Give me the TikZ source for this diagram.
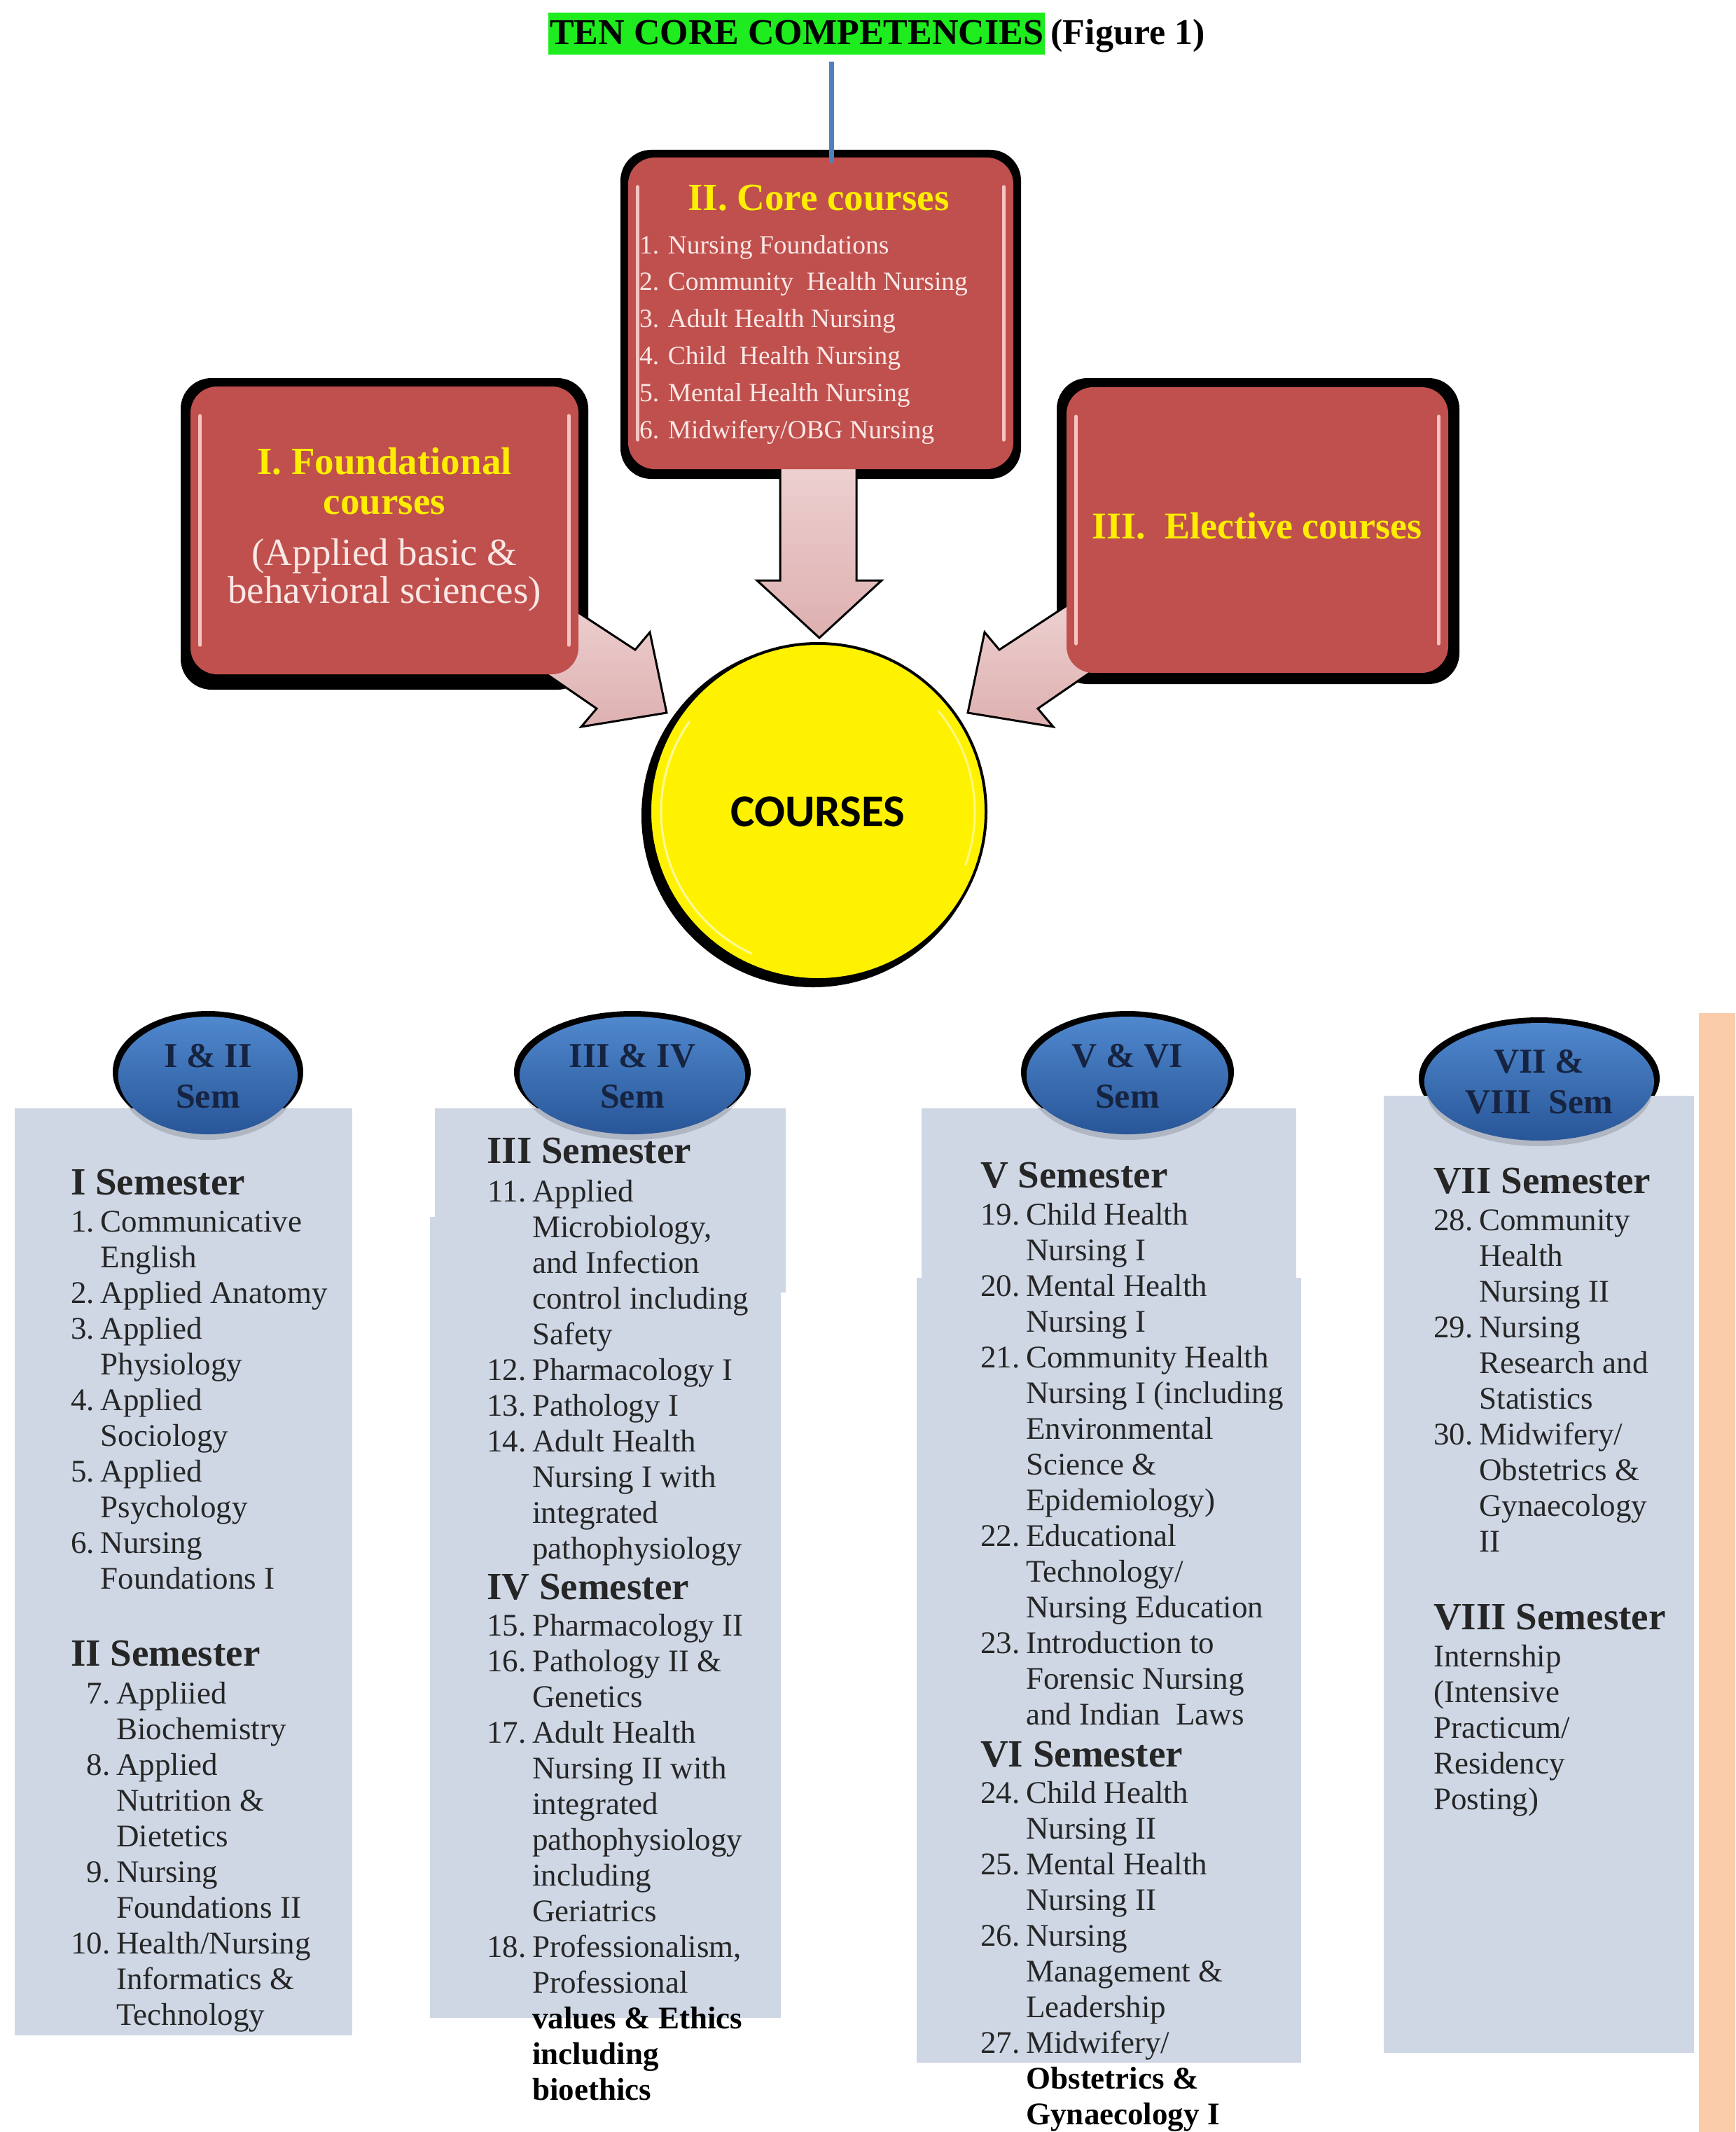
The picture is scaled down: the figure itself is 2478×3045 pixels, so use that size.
\documentclass[tikz,border=0pt]{standalone}
\usepackage{fontspec}
\setmainfont{Liberation Serif}
\newfontfamily\calibfont{Carlito}
\usetikzlibrary{calc,shapes.geometric}
\definecolor{boxred}{RGB}{192,80,77}
\definecolor{shine}{RGB}{246,196,194}
\definecolor{titlegreen}{RGB}{30,236,30}
\definecolor{ttlyellow}{RGB}{255,238,0}
\definecolor{paletext}{RGB}{250,232,230}
\definecolor{arrowpink}{RGB}{222,176,176}
\definecolor{arrowlight}{RGB}{238,210,210}
\definecolor{colfill}{RGB}{207,215,229}
\definecolor{peach}{RGB}{250,204,170}
\definecolor{semlight}{RGB}{80,136,206}
\definecolor{semdark}{RGB}{40,86,152}
\definecolor{navy}{RGB}{22,36,66}
\definecolor{bodytext}{RGB}{38,38,38}
\definecolor{lineblue}{RGB}{79,129,189}
\newcommand{\bodyfnt}{\fontsize{45}{51}\selectfont}
\newcommand{\headfnt}{\fontsize{55}{60}\selectfont\bfseries}
\tikzset{
  redbox/.style={rectangle, rounded corners=38pt, fill=boxred, inner sep=0pt},
  shadowbox/.style={rounded corners=44pt, fill=black},
  blockarrow/.style={top color=arrowlight, bottom color=arrowpink, draw=black, line width=3pt, line join=miter},
  gloss/.style={shine, line width=5pt, line cap=round},
  sembubble/.style={ellipse, top color=semlight, bottom color=semdark, inner sep=0pt},
  semtxt/.style={anchor=base, inner sep=0pt, text=navy, font=\fontsize{50}{58}\selectfont\bfseries},
  colbox/.style={fill=colfill},
  headtxt/.style={anchor=base west, inner sep=0pt, text=bodytext, font=\headfnt},
  itemblk/.style={anchor=base west, inner sep=0pt, text=bodytext, font=\bodyfnt},
}
\begin{document}
\begin{tikzpicture}[x=1pt,y=-1pt]
\useasboundingbox (0,0) rectangle (2478,3045);
\fill[white] (0,0) rectangle (2478,3045);

% ---------- title ----------
\node[anchor=base west, fill=titlegreen, inner xsep=2pt, inner ysep=0pt, text height=46pt, text depth=14pt,
      font=\fontsize{52}{60}\selectfont\bfseries] (title) at (783,64) {TEN CORE COMPETENCIES};
\node[anchor=base west, inner sep=0pt, font=\fontsize{52}{60}\selectfont\bfseries] (fig) at ([xshift=8pt]title.base east) {(Figure 1)};

% ---------- shadows of red boxes ----------
\fill[shadowbox] (886,214) rectangle (1458,684);
\fill[shadowbox] (258,540) rectangle (840,985);
\fill[shadowbox] (1509,540) rectangle (2084,977);

% ---------- block arrows ----------
\shade[blockarrow] (1114,650) -- (1114,829) -- (1081,829) -- (1170,911) -- (1259,829) -- (1223,829) -- (1223,650) -- cycle;
\shade[blockarrow] (788,850) -- (907,928) -- (928,903) -- (952,1018) -- (830,1038) -- (852,1012) -- (743,937) -- cycle;
\shade[blockarrow] (1546,850) -- (1427,928) -- (1406,903) -- (1382,1018) -- (1504,1038) -- (1482,1012) -- (1591,937) -- cycle;

% ---------- red boxes ----------
\node[redbox, minimum width=550pt, minimum height=445pt] (core) at (1172,447.5) {};
\node[redbox, minimum width=554pt, minimum height=411pt] (found) at (549,757.5) {};
\node[redbox, minimum width=545pt, minimum height=408pt] (elect) at (1795.5,757) {};

% connector from title to core box
\coordinate (lt) at (1187,88);
\draw[lineblue, line width=7pt] (lt) -- ([yshift=-8pt]lt |- core.north);

% texts in red boxes
\node[anchor=base, inner sep=0pt, text=ttlyellow, font=\fontsize{55}{60}\selectfont\bfseries] (coret) at (1169,300) {II.\ Core courses};
\node[anchor=base west, inner sep=0pt, text=paletext, font=\fontsize{37.5}{52.8}\selectfont] (corel) at (913,362)
  {\begin{tabular}[t]{@{}l@{}}1. Nursing Foundations\\2. Community\ \ Health Nursing\\3. Adult Health Nursing\\4. Child\ \ Health Nursing\\5. Mental Health Nursing\\6. Midwifery/OBG Nursing\end{tabular}};
\node[anchor=base, inner sep=0pt, text=ttlyellow, font=\fontsize{55}{57}\selectfont\bfseries] (foundt) at (549,677)
  {\begin{tabular}[t]{@{}c@{}}I. Foundational\\courses\end{tabular}};
\node[anchor=base, inner sep=0pt, text=paletext, font=\fontsize{55}{53}\selectfont] (foundl) at (549,807)
  {\begin{tabular}[t]{@{}c@{}}(Applied basic \&\\behavioral sciences)\end{tabular}};
\node[anchor=base, inner sep=0pt, text=ttlyellow, font=\fontsize{54}{60}\selectfont\bfseries] (electt) at (1795,769) {III.\ \ Elective courses};

% gloss highlights
\foreach \b in {core,found,elect}{
  \draw[gloss] ($(\b.north west)+(14,42)$) -- ($(\b.south west)+(14,-42)$);
  \draw[gloss] ($(\b.north east)+(-14,42)$) -- ($(\b.south east)+(-14,-42)$);
}

% ---------- COURSES circle ----------
\fill[black] (1161,1165) circle (245);
\node[circle, fill=yellow, draw=black, line width=4pt, minimum size=480pt, inner sep=0pt,
      font=\calibfont\bfseries\fontsize{65}{70}\selectfont] (courses) at (1168,1159) {COURSES};
\draw[white, opacity=0.6, line width=3pt] (courses.center) ++(115:224) arc (115:215:224);
\draw[white, opacity=0.5, line width=3pt] (courses.center) ++(-40:224) arc (-40:20:224);

% ---------- bottom section ----------
\fill[peach] (2426,1447) rectangle (2478,3045);
% black rims of the semester bubbles
\fill[black] (297,1531) ellipse [x radius=136, y radius=87];
\fill[black] (903,1531) ellipse [x radius=169, y radius=87];
\fill[black] (1610,1531) ellipse [x radius=152, y radius=87];
\fill[black] (2198,1540) ellipse [x radius=172, y radius=87];
% columns
\fill[colbox] (21,1583) rectangle (503,2907);
\fill[colbox] (621,1583) rectangle (1122,1846);
\fill[colbox] (614,1738) rectangle (1115,2882);
\fill[colbox] (1316,1583) rectangle (1851,1825);
\fill[colbox] (1309,1825) rectangle (1858,2946);
\fill[colbox] (1976,1565) rectangle (2419,2932);
% soft shadows of bubbles
\fill[black, opacity=0.15] (297,1546) ellipse [x radius=126, y radius=82];
\fill[black, opacity=0.15] (903,1546) ellipse [x radius=159, y radius=82];
\fill[black, opacity=0.15] (1610,1546) ellipse [x radius=142, y radius=82];
\fill[black, opacity=0.15] (2198,1555) ellipse [x radius=162, y radius=82];
% bubbles
\node[sembubble, minimum width=256pt, minimum height=168pt] (sem1) at (297,1536) {};
\node[sembubble, minimum width=322pt, minimum height=168pt] (sem2) at (903,1536) {};
\node[sembubble, minimum width=288pt, minimum height=168pt] (sem3) at (1610,1536) {};
\node[sembubble, minimum width=328pt, minimum height=168pt] (sem4) at (2198,1545) {};
\node[semtxt] (sem1t) at (297,1524) {\begin{tabular}[t]{@{}c@{}}I \& II\\Sem\end{tabular}};
\node[semtxt] (sem2t) at (903,1524) {\begin{tabular}[t]{@{}c@{}}III \& IV\\Sem\end{tabular}};
\node[semtxt] (sem3t) at (1610,1524) {\begin{tabular}[t]{@{}c@{}}V \& VI\\Sem\end{tabular}};
\node[semtxt] (sem4t) at (2198,1532) {\begin{tabular}[t]{@{}c@{}}VII \&\\VIII\ \ Sem\end{tabular}};

% ---- column 1 ----
\node[headtxt] (h1) at (101,1706) {I Semester};
\node[itemblk] (l1) at (101,1759) {\begin{tabular}[t]{@{}r@{\hspace{9pt}}l@{}}
1. & Communicative\\ & English\\ 2. & Applied Anatomy\\ 3. & Applied\\ & Physiology\\
4. & Applied\\ & Sociology\\ 5. & Applied\\ & Psychology\\ 6. & Nursing\\ & Foundations I
\end{tabular}};
\node[headtxt] (h2) at (101,2379) {II Semester};
\node[itemblk] (l2) at (101,2433) {\begin{tabular}[t]{@{}r@{\hspace{9pt}}l@{}}
7. & Appliied\\ & Biochemistry\\ 8. & Applied\\ & Nutrition \&\\ & Dietetics\\
9. & Nursing\\ & Foundations II\\ 10. & Health/Nursing\\ & Informatics \&\\ & Technology
\end{tabular}};

% ---- column 2 ----
\node[headtxt] (h3) at (695,1661) {III Semester};
\node[itemblk] (l3) at (695,1716) {\begin{tabular}[t]{@{}r@{\hspace{9pt}}l@{}}
11. & Applied\\ & Microbiology,\\ & and Infection\\ & control including\\ & Safety\\
12. & Pharmacology I\\ 13. & Pathology I\\ 14. & Adult Health\\ & Nursing I with\\ & integrated\\ & pathophysiology
\end{tabular}};
\node[headtxt] (h4) at (695,2284) {IV Semester};
\node[itemblk] (l4) at (695,2336) {\begin{tabular}[t]{@{}r@{\hspace{9pt}}l@{}}
15. & Pharmacology II\\ 16. & Pathology II \&\\ & Genetics\\ 17. & Adult Health\\ & Nursing II with\\
& integrated\\ & pathophysiology\\ & including\\ & Geriatrics\\ 18. & Professionalism,\\ & Professional\\
& \textbf{\color{black}values \& Ethics}\\ & \textbf{\color{black}including}\\ & \textbf{\color{black}bioethics}
\end{tabular}};

% ---- column 3 ----
\node[headtxt] (h5) at (1400,1696) {V Semester};
\node[itemblk] (l5) at (1400,1749) {\begin{tabular}[t]{@{}r@{\hspace{9pt}}l@{}}
19. & Child Health\\ & Nursing I\\ 20. & Mental Health\\ & Nursing I\\ 21. & Community Health\\
& Nursing I (including\\ & Environmental\\ & Science \&\\ & Epidemiology)\\ 22. & Educational\\
& Technology/\\ & Nursing Education\\ 23. & Introduction to\\ & Forensic Nursing\\ & and Indian\ \ Laws
\end{tabular}};
\node[headtxt] (h6) at (1400,2523) {VI Semester};
\node[itemblk] (l6) at (1400,2575) {\begin{tabular}[t]{@{}r@{\hspace{9pt}}l@{}}
24. & Child Health\\ & Nursing II\\ 25. & Mental Health\\ & Nursing II\\ 26. & Nursing\\
& Management \&\\ & Leadership\\ 27. & Midwifery/\\ & \textbf{\color{black}Obstetrics \&}\\ & \textbf{\color{black}Gynaecology I}
\end{tabular}};

% ---- column 4 ----
\node[headtxt] (h7) at (2047,1704) {VII Semester};
\node[itemblk] (l7) at (2047,1757) {\begin{tabular}[t]{@{}r@{\hspace{9pt}}l@{}}
28. & Community\\ & Health\\ & Nursing II\\ 29. & Nursing\\ & Research and\\ & Statistics\\
30. & Midwifery/\\ & Obstetrics \&\\ & Gynaecology\\ & II
\end{tabular}};
\node[headtxt] (h8) at (2047,2327) {VIII Semester};
\node[itemblk] (l8) at (2047,2380) {\begin{tabular}[t]{@{}l@{}}
Internship\\ (Intensive\\ Practicum/\\ Residency\\ Posting)
\end{tabular}};
\end{tikzpicture}
\end{document}
